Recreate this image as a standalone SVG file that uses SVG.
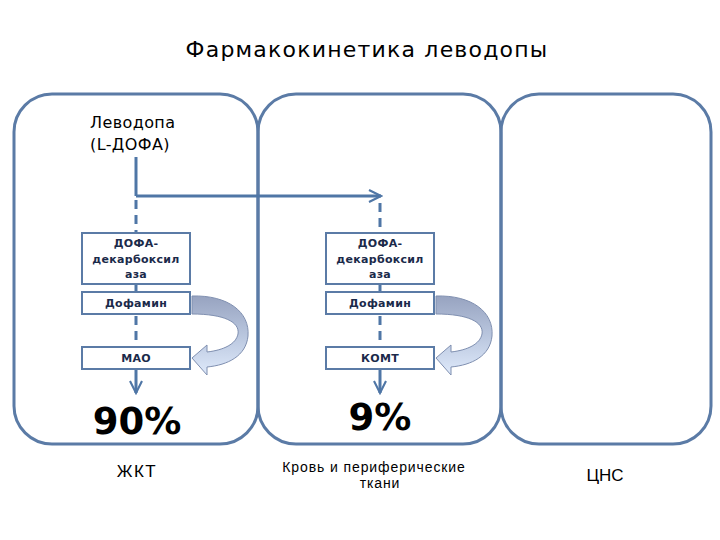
<svg xmlns="http://www.w3.org/2000/svg" width="720" height="540" viewBox="0 0 720 540">
<defs>
<style>
.panel{fill:none;stroke:#5b7ba6;stroke-width:3}
.box{fill:#fff;stroke:#5b7ba6;stroke-width:2}
.bt{font-family:"DejaVu Sans",Verdana,sans-serif;font-weight:bold;font-size:11px;fill:#1b2a4a;text-anchor:middle;letter-spacing:0.3px}
.ln{stroke:#4f76a6;stroke-width:3;fill:none}
.dash{stroke:#4f76a6;stroke-width:3;fill:none;stroke-dasharray:9,6}
.pct{font-family:"DejaVu Sans",Verdana,sans-serif;font-weight:bold;font-size:37px;fill:#000;text-anchor:middle}
.lab{font-family:"Liberation Sans",Arial,sans-serif;fill:#000;text-anchor:middle}
.curv{stroke:#7f8fb0;stroke-width:1;fill:url(#g)}
</style>
<linearGradient id="g" x1="0" y1="0" x2="0" y2="1">
<stop offset="0" stop-color="#97a3c0"/>
<stop offset="0.5" stop-color="#b9c6de"/>
<stop offset="1" stop-color="#dfeafb"/>
</linearGradient>
<marker id="chev" viewBox="0 0 10 10" refX="9" refY="5" markerWidth="5" markerHeight="5" orient="auto" markerUnits="strokeWidth">
<path d="M1,1 L9,5 L1,9" fill="none" stroke="#4f76a6" stroke-width="1.4"/>
</marker>
</defs>
<rect width="720" height="540" fill="#fff"/>
<text x="367" y="57" font-family="DejaVu Sans,Verdana,sans-serif" font-size="22" letter-spacing="1.2" text-anchor="middle" fill="#000">Фармакокинетика леводопы</text>

<g id="panel-gkt"><rect class="panel" x="14" y="94" width="244" height="350" rx="38" ry="38"/></g>
<g id="panel-blood"><rect class="panel" x="258" y="94" width="243" height="350" rx="38" ry="38"/></g>
<g id="panel-cns"><rect class="panel" x="501" y="94" width="210" height="350" rx="38" ry="38"/></g>

<g id="levodopa">
<text x="90" y="128" font-family="DejaVu Sans,Verdana,sans-serif" font-size="16" letter-spacing="0.4" fill="#000">Леводопа</text>
<text x="90" y="150" font-family="DejaVu Sans,Verdana,sans-serif" font-size="16" letter-spacing="0.4" fill="#000">(L-ДОФА)</text>
</g>

<g id="connectors">
<line class="ln" x1="136" y1="157" x2="136" y2="196" stroke-width="4"/>
<path class="ln" d="M136,196 H381" marker-end="url(#chev)"/>
<line class="dash" x1="136" y1="200" x2="136" y2="233"/>
<line class="dash" x1="380" y1="203" x2="380" y2="233"/>
<line class="dash" x1="136" y1="284" x2="136" y2="292"/>
<line class="dash" x1="380" y1="284" x2="380" y2="292"/>
<line class="dash" x1="136" y1="316" x2="136" y2="347" stroke-dasharray="9,9"/>
<line class="dash" x1="380" y1="316" x2="380" y2="347" stroke-dasharray="9,9"/>
<path class="ln" d="M136,369 V393" marker-end="url(#chev)"/>
<path class="ln" d="M380,369 V393" marker-end="url(#chev)"/>
<path class="curv" d="M192,296 C228,295 250,312 248,336 C246,356 228,365 207,367 L207,375 L192,358 L207,345 L207,352 C224,350 236,344 238,334 C240,322 224,314 192,314 Z"/>
<path class="curv" d="M436,296 C472,295 494,312 492,336 C490,356 472,365 451,367 L451,375 L436,358 L451,345 L451,352 C468,350 480,344 482,334 C484,322 468,314 436,314 Z"/>
</g>

<g id="ddc1"><rect class="box" x="82" y="233" width="108" height="51"/>
<text class="bt" x="136" y="247">ДОФА-</text><text class="bt" x="136" y="263">декарбоксил</text><text class="bt" x="136" y="278">аза</text></g>
<g id="dopamine1"><rect class="box" x="82" y="292" width="108" height="22"/><text class="bt" x="136" y="307">Дофамин</text></g>
<g id="mao"><rect class="box" x="82" y="347" width="108" height="22"/><text class="bt" x="136" y="362">МАО</text></g>
<text class="pct" x="137" y="434">90%</text>

<g id="ddc2"><rect class="box" x="326" y="233" width="108" height="51"/>
<text class="bt" x="380" y="247">ДОФА-</text><text class="bt" x="380" y="263">декарбоксил</text><text class="bt" x="380" y="278">аза</text></g>
<g id="dopamine2"><rect class="box" x="326" y="292" width="108" height="22"/><text class="bt" x="380" y="307">Дофамин</text></g>
<g id="comt"><rect class="box" x="326" y="347" width="108" height="22"/><text class="bt" x="380" y="362">КОМТ</text></g>
<text class="pct" x="380" y="430">9%</text>

<text class="lab" x="137" y="477" font-size="17" letter-spacing="1.5">ЖКТ</text>
<text class="lab" x="374" y="472" font-size="14" letter-spacing="0.9">Кровь и периферические</text>
<text class="lab" x="380" y="488" font-size="14" letter-spacing="0.9">ткани</text>
<text class="lab" x="605" y="481" font-size="17">ЦНС</text>
</svg>
